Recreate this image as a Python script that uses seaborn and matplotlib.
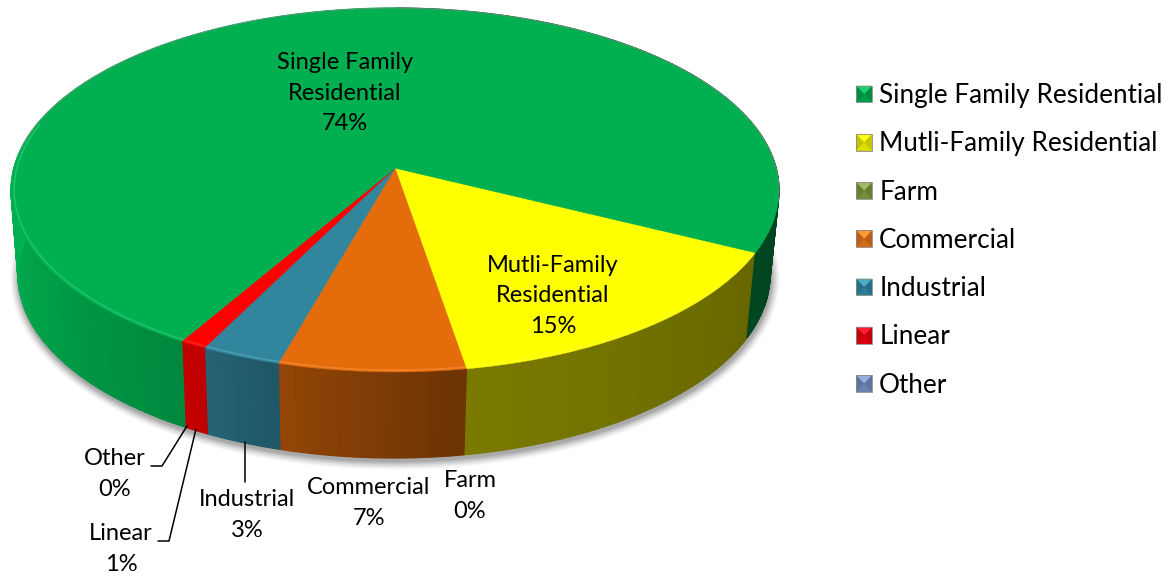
import numpy as np
import matplotlib
matplotlib.use("Agg")
import matplotlib.pyplot as plt
from matplotlib.colors import to_rgb
from matplotlib.legend_handler import HandlerBase
from matplotlib.patches import Patch, Polygon, Ellipse
import seaborn as sns

categories = ["Single Family Residential", "Mutli-Family Residential", "Farm",
              "Commercial", "Industrial", "Linear", "Other"]
shares = [74, 15, 0, 7, 3, 1, 0]
label_lines = [["Single Family", "Residential"], ["Mutli-Family", "Residential"], ["Farm"],
               ["Commercial"], ["Industrial"], ["Linear"], ["Other"]]

palette = ["#00B050", "#FFFF00", "#77933C", "#E46C0A", "#31859C", "#FF0000", "#6F86B5"]
legend_palette = ["#00B050", "#F5F500", "#7F9C3F", "#E8781A", "#2F8CA8", "#F4000F", "#7890C0"]
label_centers = [(345, 93), (553, 296), (470, 496), (369, 503), (247, 515), (121, 549), (115, 474)]

sns.set_theme(style="white")
plt.rcParams["font.family"] = ["Lato", "DejaVu Sans"]

FIRST_ANGLE = 116.5           # clockwise from twelve o'clock, where the second slice begins
PERSPECTIVE = 0.12
TOP = dict(cx=395, cy=190, rx=384, ry=182)
BASE = dict(cx=394, cy=275, rx=376, ry=183)
WALL_ANGLE = [90, 115, 172, 195, 208, 240, 275, 300]
WALL_LIGHT = [0.38, 0.40, 0.48, 0.64, 0.76, 0.90, 1.03, 1.0]


def project(phi_deg, disc, radius=1.0):
    """Perspective view of a point on a disc given its clockwise angle from the top."""
    phi = np.radians(phi_deg)
    u, v = radius * np.sin(phi), radius * np.cos(phi)
    a = PERSPECTIVE
    denom = 1 + a * v
    x = disc["cx"] + disc["rx"] * u * np.sqrt(1 - a * a) / denom
    y = disc["cy"] - disc["ry"] * (v + a) / denom
    return x, y


fig, ax = plt.subplots(figsize=(11.71, 5.76), dpi=100)
fig.subplots_adjust(0, 0, 1, 1)
ax.set_xlim(0, 1171)
ax.set_ylim(576, 0)
ax.axis("off")
sns.despine(ax=ax, left=True, bottom=True)

# slice extents: the second category starts at FIRST_ANGLE and the first wraps round to it
fractions = np.array(shares, dtype=float) / sum(shares) * 360
starts = {}
angle = FIRST_ANGLE
for i in list(range(1, len(shares))) + [0]:
    starts[i] = (angle, angle + fractions[i])
    angle += fractions[i]

# soft shadow under the base
for grow, alpha in zip(range(9, 0, -1), np.linspace(0.02, 0.09, 9)):
    ax.add_patch(Ellipse((BASE["cx"] + 1, BASE["cy"] + 3), 2 * (BASE["rx"] + grow),
                         2 * (BASE["ry"] + grow), color="#303030", alpha=alpha, lw=0, zorder=1))

# side wall, shaded strip by strip
for i, (a0, a1) in starts.items():
    if a1 <= a0:
        continue
    edges = np.linspace(a0, a1, max(int(a1 - a0), 2) + 1)
    base_rgb = np.array(to_rgb(palette[i]))
    for p0, p1 in zip(edges[:-1], edges[1:]):
        tx0, ty0 = project(p0, TOP)
        tx1, ty1 = project(p1, TOP)
        bx0, by0 = project(p0, BASE)
        bx1, by1 = project(p1, BASE)
        light = np.interp(((p0 + p1) / 2) % 360, WALL_ANGLE, WALL_LIGHT)
        shade = tuple(np.clip(base_rgb * light, 0, 1))
        ax.add_patch(Polygon([(tx0, ty0), (tx1, ty1), (bx1, by1), (bx0, by0)],
                             fc=shade, ec=shade, lw=0.9, zorder=2))

# top face of each slice
apex = project(0, TOP, radius=0)
for i, (a0, a1) in starts.items():
    if a1 <= a0:
        continue
    arc = np.linspace(a0, a1, max(int(a1 - a0) * 2, 2) + 1)
    xs, ys = project(arc, TOP)
    ax.add_patch(Polygon(np.vstack([apex, np.column_stack([xs, ys])]),
                         fc=palette[i], ec=palette[i], lw=0.3, zorder=3))
    # light bevel where the top meets the visible wall
    front = arc[(arc > 116) & (arc < 285)]
    if front.size:
        fx, fy = project(front, TOP, radius=0.992)
        rim = tuple(np.clip(np.array(to_rgb(palette[i])) * 0.9 + 0.16, 0, 1))
        ax.plot(fx, fy, color=rim, lw=1.3, alpha=0.7, zorder=4, solid_capstyle="butt")

# thin grey rim along the back of the disc
back = np.linspace(-85, 100, 300)
bx, by = project(back, TOP)
ax.plot(bx, by, color="#7f8f85", lw=0.7, alpha=0.7, zorder=4)

# data labels, one per category
for name_lines, share, (x, y) in zip(label_lines, shares, label_centers):
    ax.text(x, y, "\n".join(name_lines + [f"{share}%"]), ha="center", va="center",
            fontsize=17, color="black", linespacing=1.53, zorder=6)

# leader lines for the narrow slices
ax.plot([187, 162, 151], [426, 466, 466], color="black", lw=1.1, zorder=5)
ax.plot([196, 169, 158], [429, 541, 541], color="black", lw=1.1, zorder=5)
ax.plot([245, 245], [442, 482], color="black", lw=1.1, zorder=5)


class BevelKey(HandlerBase):
    """Square legend key with the bevelled look of the slices."""

    def create_artists(self, legend, orig, xd, yd, w, h, fontsize, trans):
        rgb = np.array(to_rgb(orig.get_facecolor()))
        x0, y0 = -xd, -yd
        x1, y1 = x0 + w, y0 + h
        xm, ym = (x0 + x1) / 2, (y0 + y1) / 2
        parts = [
            ([(x0, y0), (x1, y0), (x1, y1), (x0, y1)], rgb * 0.8),
            ([(x0, y1), (x1, y1), (xm, ym)], np.clip(rgb * 1.0 + 0.12, 0, 1)),
            ([(x0, y0), (x1, y0), (xm, ym)], rgb * 0.9),
        ]
        artists = [Polygon(p, closed=True, fc=c, ec="none", transform=trans) for p, c in parts]
        artists.append(Polygon(parts[0][0], closed=True, fc="none", ec="#8a8a8a", lw=0.6, transform=trans))
        return artists


handles = [Patch(facecolor=c, label=n) for c, n in zip(legend_palette, categories)]
ax.legend(handles=handles, handler_map={Patch: BevelKey()}, loc="upper left",
          bbox_to_anchor=(851 / 1171, 1 - 78 / 576), frameon=False, fontsize=18.8,
          labelcolor="black", handlelength=0.61, handleheight=0.61, handletextpad=0.27,
          labelspacing=0.89, borderpad=0.2, borderaxespad=0)

fig.savefig("out.png", dpi=100, facecolor="white")
